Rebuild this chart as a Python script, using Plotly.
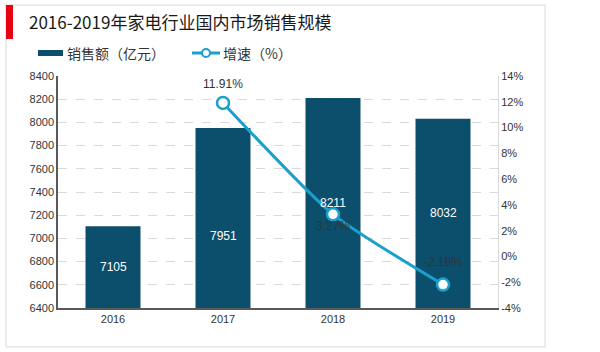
import plotly.graph_objects as go

years = ["2016", "2017", "2018", "2019"]
sales = [7105, 7951, 8211, 8032]
growth_years = ["2017", "2018", "2019"]
growth = [11.91, 3.27, -2.18]
left_ticks = list(range(6400, 8401, 200))
right_ticks = list(range(-4, 15, 2))

BAR = "#0b4f6c"
LINE = "#1b9fcf"
FONT = "Liberation Sans, Arial, Noto Sans CJK SC, sans-serif"
CJK = "Noto Sans CJK SC, Liberation Sans, sans-serif"

W, H = 600, 352
L, R, T, B = 58, 102, 76, 44
PW, PH = W - L - R, H - T - B


def px(x):
    return (x - L) / PW


def py(y):
    return (H - B - y) / PH


fig = go.Figure()
fig.add_trace(go.Bar(
    x=years, y=sales, marker=dict(color=BAR, line=dict(width=0)),
    width=0.5, showlegend=False, hoverinfo="skip",
))
fig.add_trace(go.Scatter(
    x=growth_years, y=growth, yaxis="y2", mode="lines+markers",
    line=dict(color=LINE, width=3, shape="spline", smoothing=0.6),
    marker=dict(size=12, color="white", line=dict(color=LINE, width=2.5)),
    showlegend=False, cliponaxis=False, hoverinfo="skip",
))

ymin = left_ticks[0]
annotations = []
for i, (yr, v) in enumerate(zip(years, sales)):
    mid = (ymin + v) / 2
    annotations.append(dict(
        x=i, y=mid, xref="x", yref="y", text=str(v), showarrow=False,
        font=dict(size=12, color="white", family=FONT),
        yshift=-18 if yr == "2017" else 0,
    ))

label_shift = {"2017": 19, "2018": -12, "2019": 23}
for yr, g in zip(growth_years, growth):
    annotations.append(dict(
        x=years.index(yr), y=g, xref="x", yref="y2", text=f"{g:.2f}%", showarrow=False,
        font=dict(size=12, color="#333333", family=FONT), yshift=label_shift[yr],
    ))

# title
annotations.append(dict(
    x=px(27), y=py(22), xref="paper", yref="paper", xanchor="left", yanchor="middle",
    text="2016-2019年家电行业国内市场销售规模", showarrow=False,
    font=dict(size=17, color="#1a1a1a", family=CJK),
))
# legend texts
annotations.append(dict(
    x=px(65), y=py(53), xref="paper", yref="paper", xanchor="left", yanchor="middle",
    text="销售额（亿元）", showarrow=False, font=dict(size=14, color="#333333", family=CJK),
))
annotations.append(dict(
    x=px(221), y=py(53), xref="paper", yref="paper", xanchor="left", yanchor="middle",
    text="增速（%）", showarrow=False, font=dict(size=14, color="#333333", family=CJK),
))

shapes = [
    dict(type="rect", xref="paper", yref="paper", x0=px(6), x1=px(545), y0=py(347), y1=py(5),
         line=dict(color="#d9d9d9", width=1), layer="below"),
    dict(type="rect", xref="paper", yref="paper", x0=px(6), x1=px(13), y0=py(39), y1=py(5),
         line=dict(width=0), fillcolor="#e60012"),
    dict(type="rect", xref="paper", yref="paper", x0=px(38), x1=px(63), y0=py(56), y1=py(50),
         line=dict(width=0), fillcolor=BAR),
    dict(type="line", xref="paper", yref="paper", x0=px(192), x1=px(220), y0=py(53), y1=py(53),
         line=dict(color=LINE, width=3)),
    dict(type="circle", xref="paper", yref="paper", x0=px(202), x1=px(210), y0=py(57), y1=py(49),
         line=dict(color=LINE, width=2), fillcolor="white"),
]

fig.update_layout(
    width=W, height=H, margin=dict(l=L, r=R, t=T, b=B),
    paper_bgcolor="white", plot_bgcolor="white",
    font=dict(family=FONT, size=11, color="#333333"),
    bargap=0.5, showlegend=False,
    xaxis=dict(
        type="category", range=[-0.5, 3.5], showline=True, linecolor="#595959", linewidth=1.5,
        ticks="", tickfont=dict(size=11, color="#333333"), showgrid=False, fixedrange=True,
    ),
    yaxis=dict(
        range=[left_ticks[0], left_ticks[-1]], tickvals=left_ticks, showline=True,
        linecolor="#595959", linewidth=1.5, showgrid=True, gridcolor="#d9d9d9", griddash="dash",
        gridwidth=1, zeroline=False, ticks="", tickfont=dict(size=11, color="#333333"),
    ),
    yaxis2=dict(
        overlaying="y", side="right", range=[right_ticks[0], right_ticks[-1]], tickvals=right_ticks,
        ticktext=[f"{t}%" for t in right_ticks], showgrid=False, zeroline=False, showline=True,
        linecolor="#d9d9d9", linewidth=1, ticks="", tickfont=dict(size=11, color="#333333"),
    ),
    annotations=annotations, shapes=shapes,
)

fig.write_html("out.html")
